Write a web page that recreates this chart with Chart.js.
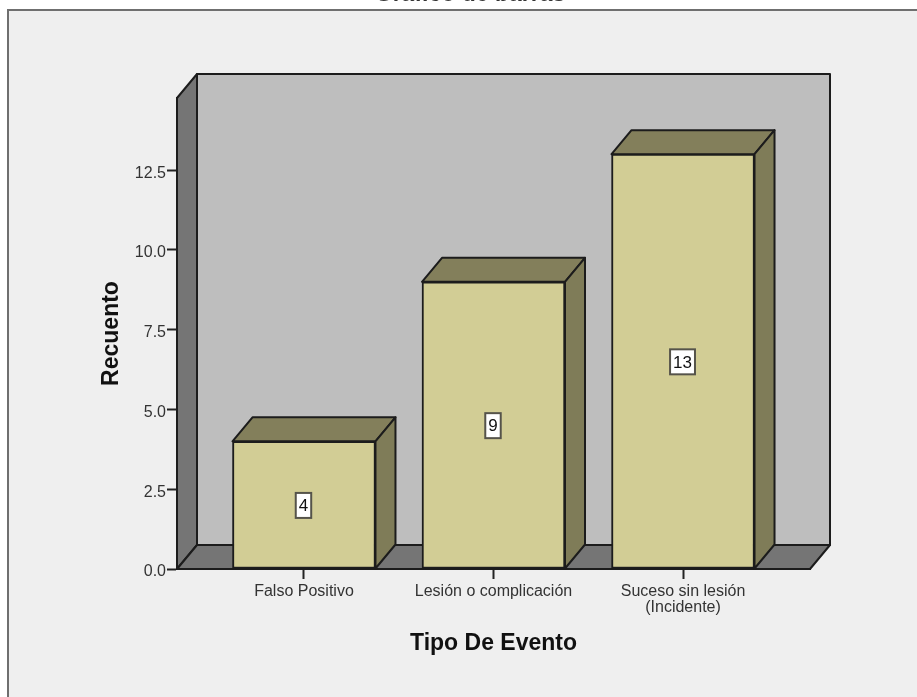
<!DOCTYPE html>
<html>
<head>
<meta charset="utf-8">
<title>Tipo De Evento</title>
<script src="https://cdn.jsdelivr.net/npm/chart.js@4"></script>
<style>
  html, body { margin: 0; padding: 0; background: #fff; overflow: hidden; }
  canvas { display: block; }
</style>
</head>
<body>
<canvas id="bar-chart" width="917" height="697"></canvas>
<script>
const categories = ['Falso Positivo', 'Lesión o complicación', ['Suceso sin lesión', '(Incidente)']];
const counts = [4, 9, 13];
const yTicks = [0, 2.5, 5, 7.5, 10, 12.5];

const chartTitle = 'Gráfico de barras';
const xTitle = 'Tipo De Evento';
const yTitle = 'Recuento';

// oblique offset of the back of the box and of each bar
const depthX = 20;
const depthY = 24;

const outline = '#1c1c1c';

function face(ctx, points, color) {
  ctx.beginPath();
  points.forEach(([x, y], i) => (i ? ctx.lineTo(x, y) : ctx.moveTo(x, y)));
  ctx.closePath();
  ctx.fillStyle = color;
  ctx.fill();
  ctx.lineWidth = 2;
  ctx.lineJoin = 'round';
  ctx.strokeStyle = outline;
  ctx.stroke();
}

const boxPlugin = {
  id: 'box',
  beforeDraw(chart) {
    const { ctx, width, height } = chart;
    ctx.save();
    ctx.fillStyle = '#fff';
    ctx.fillRect(0, 0, width, height);
    ctx.fillStyle = '#efefef';
    ctx.fillRect(8, 10, width, height);
    ctx.strokeStyle = '#6f6f6f';
    ctx.lineWidth = 2;
    ctx.beginPath();
    ctx.moveTo(8, height);
    ctx.lineTo(8, 10);
    ctx.lineTo(width, 10);
    ctx.stroke();

    ctx.fillStyle = '#333';
    ctx.font = 'bold 23px "Liberation Sans"';
    ctx.textAlign = 'center';
    ctx.textBaseline = 'alphabetic';
    ctx.fillText(chartTitle, 470, 1);
    ctx.restore();
  },
  beforeDatasetsDraw(chart) {
    const { ctx, chartArea: { left, right, top, bottom } } = chart;
    ctx.save();
    // back wall, left wall, floor
    face(ctx, [[left + depthX, top - depthY], [right + depthX, top - depthY], [right + depthX, bottom - depthY], [left + depthX, bottom - depthY]], '#bebebe');
    face(ctx, [[left, top], [left + depthX, top - depthY], [left + depthX, bottom - depthY], [left, bottom]], '#757575');
    face(ctx, [[left, bottom], [left + depthX, bottom - depthY], [right + depthX, bottom - depthY], [right, bottom]], '#757575');

    // top and side of each bar
    chart.getDatasetMeta(0).data.forEach((bar) => {
      const x0 = bar.x - bar.width / 2;
      const x1 = bar.x + bar.width / 2;
      face(ctx, [[x0, bar.y], [x0 + depthX, bar.y - depthY], [x1 + depthX, bar.y - depthY], [x1, bar.y]], '#837f5b');
      face(ctx, [[x1, bar.y], [x1 + depthX, bar.y - depthY], [x1 + depthX, bar.base - depthY], [x1, bar.base]], '#7f7c58');
    });
    ctx.restore();
  },
  afterDatasetsDraw(chart) {
    const { ctx } = chart;
    ctx.save();
    ctx.font = '17px "Liberation Sans"';
    ctx.textAlign = 'center';
    ctx.textBaseline = 'middle';
    chart.getDatasetMeta(0).data.forEach((bar, i) => {
      const text = String(counts[i]);
      const w = ctx.measureText(text).width + 6;
      const h = 25;
      const cx = bar.x - 0.5;
      const cy = (bar.y + bar.base) / 2 + 0.5;
      ctx.fillStyle = '#fff';
      ctx.strokeStyle = '#55534a';
      ctx.lineWidth = 2;
      ctx.fillRect(cx - w / 2, cy - h / 2, w, h);
      ctx.strokeRect(cx - w / 2, cy - h / 2, w, h);
      ctx.fillStyle = '#111';
      ctx.fillText(text, cx, cy + 1);
    });
    ctx.restore();
  }
};

new Chart(document.getElementById('bar-chart'), {
  type: 'bar',
  data: {
    datasets: [{
      label: yTitle,
      data: counts.map((value, i) => ({ x: i, y: value })),
      backgroundColor: '#d2cd95',
      borderColor: outline,
      borderWidth: 2,
      borderSkipped: false,
      barThickness: 143
    }]
  },
  plugins: [boxPlugin],
  options: {
    responsive: false,
    animation: false,
    layout: { padding: { top: 98, right: 107, left: 0, bottom: 0 } },
    plugins: {
      legend: { display: false },
      tooltip: { enabled: false }
    },
    scales: {
      x: {
        type: 'linear',
        offset: false,
        min: -0.67,
        max: 2.67,
        afterBuildTicks: (scale) => { scale.ticks = categories.map((_, i) => ({ value: i })); },
        afterFit: (scale) => { scale.height = 128; },
        grid: { offset: false, drawOnChartArea: false, tickLength: 10, tickColor: '#222', tickWidth: 2 },
        border: { color: outline, width: 2 },
        ticks: {
          autoSkip: false,
          maxRotation: 0,
          padding: 5,
          color: '#333',
          font: { family: '"Liberation Sans"', size: 16, lineHeight: 1 },
          callback: (value) => categories[value]
        },
        title: {
          display: true,
          text: xTitle,
          color: '#111',
          font: { family: '"Liberation Sans"', size: 23, weight: 'bold' },
          padding: { top: 0, bottom: 40 }
        }
      },
      y: {
        min: 0,
        max: 14.76,
        afterBuildTicks: (scale) => { scale.ticks = yTicks.map((value) => ({ value })); },
        afterFit: (scale) => { scale.width = 177; },
        grid: { drawOnChartArea: false, tickLength: 10, tickColor: '#222', tickWidth: 2 },
        border: { color: outline, width: 2 },
        ticks: {
          padding: 1,
          labelOffset: 3,
          color: '#333',
          font: { family: '"Liberation Sans"', size: 16 },
          callback: (value) => value.toFixed(1)
        },
        title: {
          display: true,
          text: yTitle,
          color: '#111',
          font: { family: '"Liberation Sans"', size: 23, weight: 'bold' },
          padding: { top: 98, bottom: 0 }
        }
      }
    }
  }
});
</script>
</body>
</html>
